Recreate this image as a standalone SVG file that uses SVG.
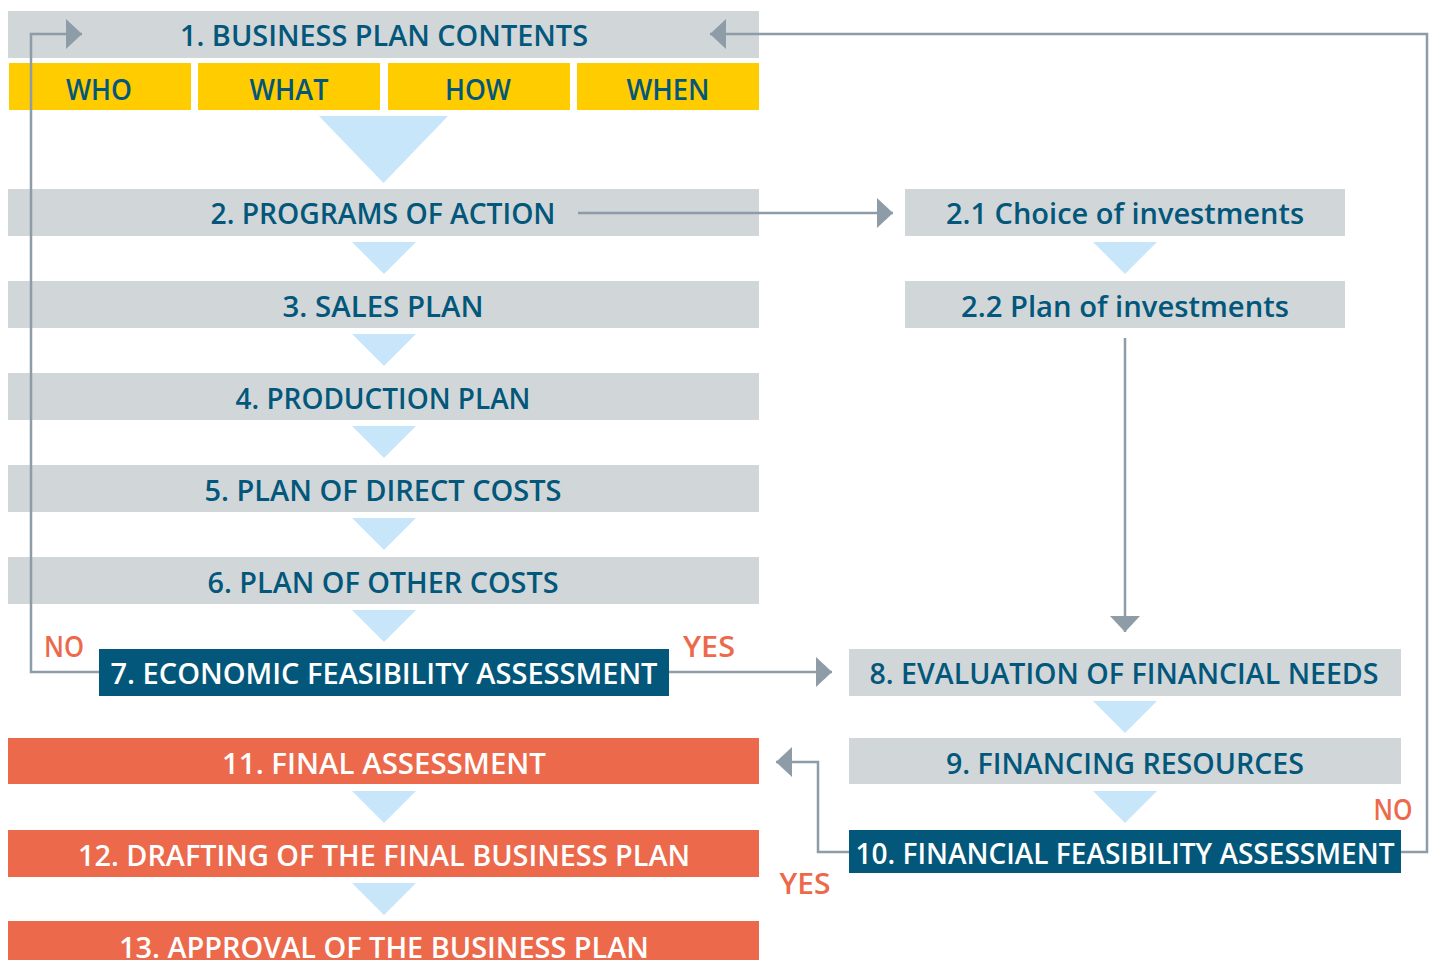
<svg xmlns="http://www.w3.org/2000/svg" width="1434" height="960" viewBox="0 0 1434 960">
<style>
.g{fill:#D1D6D9}
.y{fill:#FFCC00}
.d{fill:#03577A}
.o{fill:#EC6A4B}
.tri{fill:#C7E6F9}
text{font-family:"Open Sans","Liberation Sans",Arial,sans-serif;font-weight:600;font-size:28px;text-anchor:middle}
.t{fill:#03577A}
.w{fill:#FFFFFF}
.lab{fill:#EC6A4B}
.c{fill:none;stroke:#8D9CA6;stroke-width:2.5}
</style>
<defs>
<marker id="ah" markerUnits="userSpaceOnUse" markerWidth="16" markerHeight="30" refX="16" refY="15" orient="auto" viewBox="0 0 16 30">
<path d="M0,0 L16,15 L0,30 Z" fill="#8D9CA6"/>
</marker>
</defs>
<rect width="1434" height="960" fill="#FFFFFF"/>
<g id="n1"><rect class="g" x="8" y="11" width="751" height="47"/><text class="t" x="384" y="46" textLength="408" lengthAdjust="spacingAndGlyphs">1. BUSINESS PLAN CONTENTS</text></g>
<g id="who"><rect class="y" x="9" y="63" width="182" height="47"/><text class="t" x="99" y="100" textLength="66" lengthAdjust="spacingAndGlyphs">WHO</text></g>
<g id="what"><rect class="y" x="198" y="63" width="182" height="47"/><text class="t" x="289" y="100" textLength="79" lengthAdjust="spacingAndGlyphs">WHAT</text></g>
<g id="how"><rect class="y" x="388" y="63" width="182" height="47"/><text class="t" x="478" y="100" textLength="66" lengthAdjust="spacingAndGlyphs">HOW</text></g>
<g id="when"><rect class="y" x="577" y="63" width="182" height="47"/><text class="t" x="668" y="100" textLength="83" lengthAdjust="spacingAndGlyphs">WHEN</text></g>
<g id="n2"><rect class="g" x="8" y="189" width="751" height="47"/><text class="t" x="383" y="224" textLength="345" lengthAdjust="spacingAndGlyphs">2. PROGRAMS OF ACTION</text></g>
<g id="n21"><rect class="g" x="905" y="189" width="440" height="47"/><text class="t" x="1125" y="224" textLength="358" lengthAdjust="spacingAndGlyphs">2.1 Choice of investments</text></g>
<g id="n22"><rect class="g" x="905" y="281" width="440" height="47"/><text class="t" x="1125" y="317" textLength="328" lengthAdjust="spacingAndGlyphs">2.2 Plan of investments</text></g>
<g id="n3"><rect class="g" x="8" y="281" width="751" height="47"/><text class="t" x="383" y="317" textLength="201" lengthAdjust="spacingAndGlyphs">3. SALES PLAN</text></g>
<g id="n4"><rect class="g" x="8" y="373" width="751" height="47"/><text class="t" x="383" y="409" textLength="295" lengthAdjust="spacingAndGlyphs">4. PRODUCTION PLAN</text></g>
<g id="n5"><rect class="g" x="8" y="465" width="751" height="47"/><text class="t" x="383" y="501" textLength="357" lengthAdjust="spacingAndGlyphs">5. PLAN OF DIRECT COSTS</text></g>
<g id="n6"><rect class="g" x="8" y="557" width="751" height="47"/><text class="t" x="383" y="593" textLength="351" lengthAdjust="spacingAndGlyphs">6. PLAN OF OTHER COSTS</text></g>
<g id="n7"><rect class="d" x="99" y="649" width="570" height="47"/><text class="w" x="384" y="684" textLength="547" lengthAdjust="spacingAndGlyphs">7. ECONOMIC FEASIBILITY ASSESSMENT</text></g>
<g id="n8"><rect class="g" x="849" y="649" width="552" height="47"/><text class="t" x="1124" y="684" textLength="509" lengthAdjust="spacingAndGlyphs">8. EVALUATION OF FINANCIAL NEEDS</text></g>
<g id="n9"><rect class="g" x="849" y="738" width="552" height="46"/><text class="t" x="1125" y="774" textLength="358" lengthAdjust="spacingAndGlyphs">9. FINANCING RESOURCES</text></g>
<g id="n10"><rect class="d" x="849" y="830" width="552" height="43"/><text class="w" x="1125" y="864" textLength="539" lengthAdjust="spacingAndGlyphs">10. FINANCIAL FEASIBILITY ASSESSMENT</text></g>
<g id="n11"><rect class="o" x="8" y="738" width="751" height="46"/><text class="w" x="384" y="774" textLength="324" lengthAdjust="spacingAndGlyphs">11. FINAL ASSESSMENT</text></g>
<g id="n12"><rect class="o" x="8" y="830" width="751" height="47"/><text class="w" x="384" y="866" textLength="612" lengthAdjust="spacingAndGlyphs">12. DRAFTING OF THE FINAL BUSINESS PLAN</text></g>
<g id="n13"><rect class="o" x="8" y="921" width="751" height="47"/><text class="w" x="384" y="958" textLength="530" lengthAdjust="spacingAndGlyphs">13. APPROVAL OF THE BUSINESS PLAN</text></g>
<g id="flow-triangles">
<polygon class="tri" points="319,116 448,116 383.5,183"/>
<polygon class="tri" points="352,242 416,242 384,274"/>
<polygon class="tri" points="352,334 416,334 384,366"/>
<polygon class="tri" points="352,426 416,426 384,458"/>
<polygon class="tri" points="352,518 416,518 384,550"/>
<polygon class="tri" points="352,610 416,610 384,642"/>
<polygon class="tri" points="352,791 416,791 384,823"/>
<polygon class="tri" points="352,883 416,883 384,915"/>
<polygon class="tri" points="1093,242 1157,242 1125,274"/>
<polygon class="tri" points="1093,701 1157,701 1125,733"/>
<polygon class="tri" points="1093,791 1157,791 1125,823"/>
</g>
<g id="connectors">
<path class="c" d="M99,672 H31 V34 H82" marker-end="url(#ah)"/>
<path class="c" d="M1401,852 H1427 V34 H710" marker-end="url(#ah)"/>
<path class="c" d="M578,213 H893" marker-end="url(#ah)"/>
<path class="c" d="M1125,338 V632" marker-end="url(#ah)"/>
<path class="c" d="M669,672 H832" marker-end="url(#ah)"/>
<path class="c" d="M849,852 H818 V762 H776" marker-end="url(#ah)"/>
<text class="lab" x="64" y="657" textLength="40" lengthAdjust="spacingAndGlyphs">NO</text>
<text class="lab" x="709" y="657" textLength="52" lengthAdjust="spacingAndGlyphs">YES</text>
<text class="lab" x="1393" y="820" textLength="39" lengthAdjust="spacingAndGlyphs">NO</text>
<text class="lab" x="805" y="894" textLength="51" lengthAdjust="spacingAndGlyphs">YES</text>
</g>
</svg>
